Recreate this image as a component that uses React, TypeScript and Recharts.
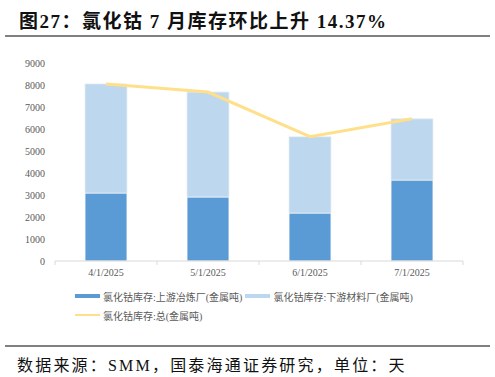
import { Bar, Line, XAxis, YAxis, ComposedChart } from 'recharts'

const months = ['4/1/2025', '5/1/2025', '6/1/2025', '7/1/2025']
const upstream = [3090, 2910, 2180, 3680]
const downstream = [4960, 4770, 3470, 2782]
const total = [8050, 7680, 5650, 6462]
const yTicks = [0, 1000, 2000, 3000, 4000, 5000, 6000, 7000, 8000, 9000]

const seriesNames = {
  up: '氯化钴库存:上游冶炼厂(金属吨)',
  down: '氯化钴库存:下游材料厂(金属吨)',
  total: '氯化钴库存:总(金属吨)',
}

const data = months.map((m, i) => ({
  month: m,
  up: upstream[i],
  down: downstream[i],
  total: total[i],
}))

const serif = '"Liberation Serif", "Times New Roman", "Noto Sans CJK SC", serif'
const W = 495
const PLOT_LEFT = 55
const PLOT_RIGHT = 32
const HALF_BAND = (W - PLOT_LEFT - PLOT_RIGHT) / months.length / 2

const XTick = (props: any) => {
  const { x, y, payload } = props
  return (
    <g>
      <line x1={x + HALF_BAND} x2={x + HALF_BAND} y1={y - 8} y2={y - 4} stroke="#D9D9D9" />
      {props.index === 0 && <line x1={x - HALF_BAND} x2={x - HALF_BAND} y1={y - 8} y2={y - 4} stroke="#D9D9D9" />}
      <text x={x} y={y} dy={7} textAnchor="middle" fill="#595959" fontSize={10} fontFamily={serif}>
        {payload.value}
      </text>
    </g>
  )
}

export default function App() {
  return (
    <div style={{ position: 'absolute', left: 0, top: 0, width: W, height: 377, background: '#fff', fontFamily: serif }}>
      <div style={{ position: 'absolute', left: 19, top: 6, fontSize: 19, fontWeight: 'bold', color: '#111', whiteSpace: 'nowrap', letterSpacing: 1.5 }}>
        图27：氯化钴 7 月库存环比上升 14.37%
      </div>
      <div style={{ position: 'absolute', left: 5, top: 35, width: 485, height: 2, background: '#808080' }} />

      <div style={{ position: 'absolute', left: 0, top: 0 }}>
        <ComposedChart width={W} height={290} data={data} margin={{ top: 63, right: PLOT_RIGHT, left: 0, bottom: 9 }} barSize={42}>
          <XAxis
            dataKey="month"
            height={20}
            axisLine={{ stroke: '#D9D9D9' }}
            tickLine={false}
            tickSize={0}
            tickMargin={8}
            tick={<XTick />}
          />
          <YAxis
            width={PLOT_LEFT}
            domain={[0, 9000]}
            ticks={yTicks}
            axisLine={false}
            tickLine={false}
            tickSize={0}
            tickMargin={10}
            tick={{ fill: '#595959', fontSize: 10, fontFamily: serif }}
          />
          <Bar dataKey="up" name={seriesNames.up} stackId="a" fill="#5B9BD5" stroke="#fff" strokeWidth={0.8} isAnimationActive={false} />
          <Bar dataKey="down" name={seriesNames.down} stackId="a" fill="#BDD7EE" stroke="#E8EEF4" strokeWidth={0.8} isAnimationActive={false} />
          <Line dataKey="total" name={seriesNames.total} type="linear" stroke="#FFE08A" strokeWidth={3} dot={false} isAnimationActive={false} />
        </ComposedChart>
      </div>

      <div style={{ position: 'absolute', left: 75, top: 289, fontSize: 10, color: '#595959', whiteSpace: 'nowrap' }}>
        <div style={{ display: 'flex', alignItems: 'center', height: 14 }}>
          <span style={{ display: 'inline-block', width: 25, height: 4, background: '#5B9BD5', marginRight: 3 }} />
          <span>{seriesNames.up}</span>
          <span style={{ display: 'inline-block', width: 25, height: 4, background: '#BDD7EE', marginLeft: 3, marginRight: 3 }} />
          <span>{seriesNames.down}</span>
        </div>
        <div style={{ display: 'flex', alignItems: 'center', height: 14, marginTop: 5 }}>
          <span style={{ display: 'inline-block', width: 25, height: 2, background: '#FFE08A', marginRight: 3 }} />
          <span>{seriesNames.total}</span>
        </div>
      </div>

      <div style={{ position: 'absolute', left: 5, top: 345, width: 485, height: 1.5, background: '#808080' }} />
      <div style={{ position: 'absolute', left: 17, top: 352, fontSize: 16, color: '#111', whiteSpace: 'nowrap', letterSpacing: 2.2 }}>
        数据来源：SMM，国泰海通证券研究，单位：天
      </div>
    </div>
  )
}
